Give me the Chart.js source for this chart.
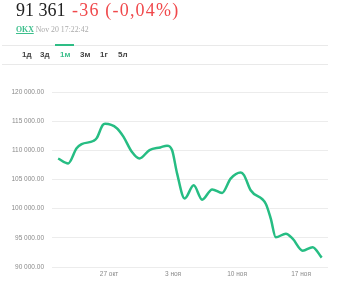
<!DOCTYPE html>
<html>
<head>
<meta charset="utf-8">
<script src="https://cdn.jsdelivr.net/npm/chart.js@4"></script>
<style>
  body { margin: 0; background: #fff; width: 360px; height: 300px; overflow: hidden; position: relative; }
  #priceChart { position: absolute; left: 0; top: 0; }
  .price { position: absolute; left: 16px; top: 0px; font-family: "Liberation Serif", serif; font-size: 18px; color: #222; white-space: nowrap; }
  .price .chg { color: #f0484b; letter-spacing: 1.2px; margin-left: 2px; }
  .meta { position: absolute; left: 16px; top: 25px; font-family: "Liberation Serif", serif; font-size: 7.8px; color: #aaa; white-space: nowrap; }
  .meta b { color: #3cbf8c; text-decoration: underline; }
  .rule { position: absolute; left: 2px; width: 326px; height: 1px; background: #e9e9e9; }
  .tabs { position: absolute; top: 50px; left: 0; font-family: "Liberation Sans", sans-serif; font-size: 8px; font-weight: bold; color: #444; }
  .tabs span { position: absolute; white-space: nowrap; }
  .tabs .on { color: #3cbf8c; }
  .marker { position: absolute; top: 44px; left: 55px; width: 19px; height: 2px; background: #2ebd85; }
</style>
</head>
<body>
<canvas id="priceChart" width="360" height="300"></canvas>
<div class="price">91 361 <span class="chg">-36 (-0,04%)</span></div>
<div class="meta"><b>OKX</b> Nov 20 17:22:42</div>
<div class="rule" style="top:45px"></div>
<div class="marker"></div>
<div class="tabs">
  <span style="left:22px">1д</span>
  <span style="left:40px">3д</span>
  <span style="left:60px" class="on">1м</span>
  <span style="left:80px">3м</span>
  <span style="left:100px">1г</span>
  <span style="left:118px">5л</span>
</div>
<div class="rule" style="top:64px"></div>
<script>
// day of Oct (Nov = 31 + day)
const days = [21.43, 22.53, 23.45, 24.0, 25.27, 25.65, 26.31, 26.56, 27.85, 28.57, 29.49, 30.33, 31.43, 32.6, 33.34, 33.89,
    34.44, 35.27, 36.26, 37.18, 38.28, 39.37, 40.3, 41.4, 41.76, 42.49, 44.14, 44.69, 45.24, 46.34, 47.08, 48.18, 49.27, 50.26];
const prices = [108600, 107750, 110350, 111050, 111600, 112100, 114350, 114550, 113800, 112350, 109750, 108600, 110050, 110500, 110800, 110050,
    106050, 101750, 104000, 101550, 103300, 102700, 105150, 106200, 105750, 103150, 100850, 98300, 95100, 95700, 94850, 92800, 93400, 91600];

const tickDays = [27, 34, 41, 48];
const tickLabels = ['27 окт', '3 ноя', '10 ноя', '17 ноя'];

const yMin = 90000;
const yMax = 120000;
const yStep = 5000;

function fmtPrice(v) {
    return String(Math.round(v)).replace(/\B(?=(\d{3})+(?!\d))/g, ' ') + '.00';
}

const points = days.map((d, i) => ({ x: d, y: prices[i] }));

const ctx = document.getElementById('priceChart').getContext('2d');
new Chart(ctx, {
    type: 'line',
    data: {
        datasets: [{
            data: points,
            borderColor: '#26bd83',
            borderWidth: 2.5,
            pointRadius: 0,
            cubicInterpolationMode: 'monotone',
            fill: false
        }]
    },
    options: {
        responsive: false,
        animation: false,
        layout: { padding: { top: 92, right: 32, bottom: 19, left: 0 } },
        plugins: { legend: { display: false }, tooltip: { enabled: false } },
        scales: {
            x: {
                type: 'linear',
                min: 20.76,
                max: 50.95,
                afterBuildTicks: (scale) => { scale.ticks = tickDays.map(v => ({ value: v })); },
                afterFit: (scale) => { scale.height = 14; },
                grid: { display: false, drawTicks: false },
                border: { display: false },
                ticks: {
                    padding: 3,
                    maxRotation: 0,
                    autoSkip: false,
                    color: '#8a8a8a',
                    font: { family: 'Liberation Sans', size: 6.5 },
                    callback: (v) => tickLabels[tickDays.indexOf(v)]
                }
            },
            y: {
                min: yMin,
                max: yMax,
                afterFit: (scale) => { scale.width = 52; },
                grid: { color: '#ececec', drawTicks: false },
                border: { display: false },
                ticks: {
                    stepSize: yStep,
                    padding: 8,
                    color: '#8a8a8a',
                    font: { family: 'Liberation Sans', size: 6.5 },
                    callback: (v) => fmtPrice(v)
                }
            }
        }
    }
});
</script>
</body>
</html>
